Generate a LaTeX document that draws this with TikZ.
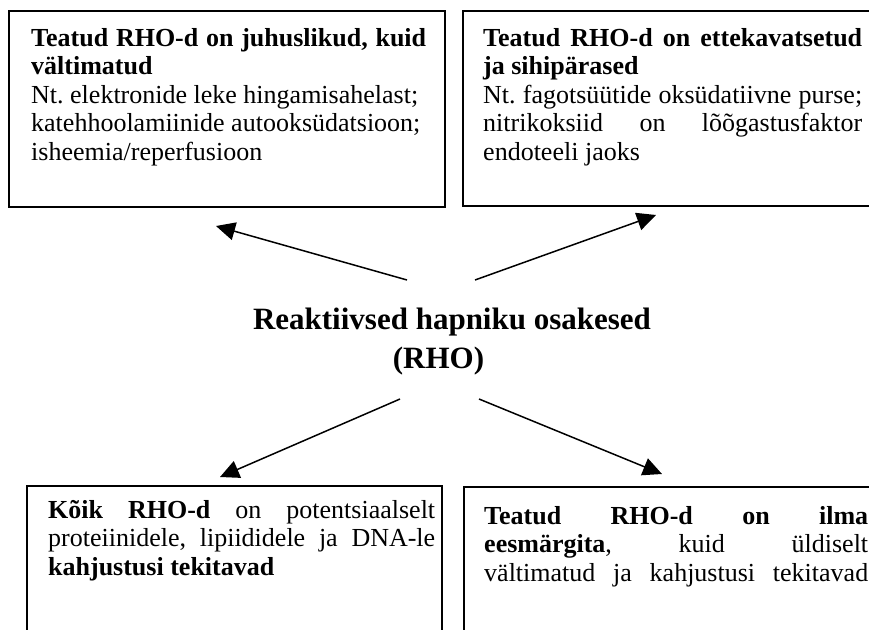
\documentclass[tikz,border=0pt]{standalone}
\usepackage{fontspec}
\setmainfont{Liberation Serif}
\usetikzlibrary{arrows.meta}
\begin{document}
\begin{tikzpicture}[x=1pt,y=-1pt,
  boxline/.style={draw=black,line width=1.5pt},
  boxtext/.style={anchor=base west,inner sep=0pt,align=justify,
    font=\fontsize{26}{28.5}\selectfont\frenchspacing},
  arr/.style={line width=1.5pt,-{Triangle[length=19pt,width=18pt]}}]
\clip (0,0) rectangle (869,629);
\fill[white] (0,0) rectangle (869,629);
% boxes
\draw[boxline] (9,11) rectangle (445,207);
\draw[boxline] (463,11) rectangle (885,206);
\draw[boxline] (27,486) rectangle (442,650);
\draw[boxline] (464,487) rectangle (885,650);
% box texts
\node[boxtext,text width=395pt] (t1) at (31,46)
  {\textbf{Teatud RHO-d on juhuslikud, kuid\linebreak vältimatud}\\
   Nt. elektronide leke hingamisahelast;\\
   katehhoolamiinide autooksüdatsioon;\\
   isheemia/reperfusioon};
\node[boxtext,text width=379pt] (t2) at (483,46)
  {\textbf{Teatud RHO-d on ettekavatsetud\linebreak ja sihipärased}\\
   Nt. fagotsüütide oksüdatiivne purse;\linebreak
   nitrikoksiid on lõõgastusfaktor\linebreak
   endoteeli jaoks};
\node[boxtext,text width=387pt] (t3) at (48,518)
  {\textbf{Kõik RHO-d} on potentsiaalselt\linebreak
   proteiinidele, lipiididele ja DNA-le\linebreak
   \textbf{kahjustusi tekitavad}};
\node[boxtext,text width=384pt] (t4) at (484,524)
  {\textbf{Teatud RHO-d on ilma\linebreak eesmärgita}, kuid üldiselt\linebreak
   \makebox[384pt][s]{vältimatud ja kahjustusi tekitavad}};
% centre
\node[anchor=base,inner sep=0pt,align=center,
  font=\fontsize{31}{39}\selectfont\bfseries] (rho) at (452,368)
  {Reaktiivsed hapniku osakesed\\(RHO)\hspace*{27pt}};
% arrows
\coordinate (s1) at (407,280); \coordinate (e1) at (216,226);
\coordinate (s2) at (475,280); \coordinate (e2) at (656,215);
\coordinate (s3) at (400,399); \coordinate (e3) at (220,477);
\coordinate (s4) at (479,399); \coordinate (e4) at (662,474);
\draw[arr] (s1) -- (e1);
\draw[arr] (s2) -- (e2);
\draw[arr] (s3) -- (e3);
\draw[arr] (s4) -- (e4);
\end{tikzpicture}
\end{document}
